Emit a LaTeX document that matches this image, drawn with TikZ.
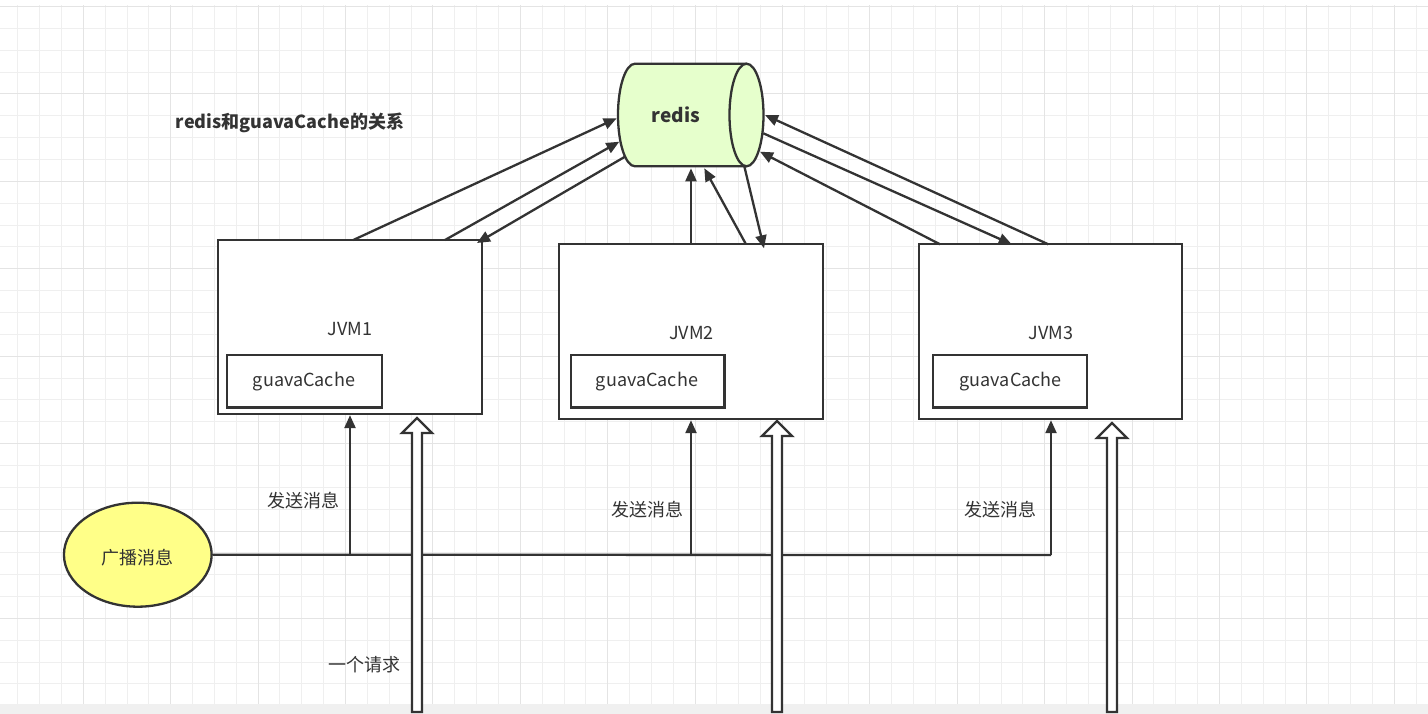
\documentclass[tikz,border=0pt]{standalone}
\usepackage{fontspec}
\setmainfont{Noto Sans CJK SC}
\usetikzlibrary{arrows.meta,shapes.geometric}
\definecolor{ln}{HTML}{333333}
\definecolor{gridminor}{HTML}{EFEFEF}
\definecolor{gridmajor}{HTML}{E4E4E4}
\definecolor{redisfill}{HTML}{E6FFCC}
\definecolor{bcfill}{HTML}{FFFF88}
\definecolor{band}{HTML}{F0F0F0}
\tikzset{
  jvmbox/.style={draw=ln, line width=2.3pt, fill=white, rectangle, inner sep=0pt},
  txt/.style={text=ln, inner sep=0pt},
  conn/.style={draw=ln, line width=2.3pt},
  arr/.style={conn, -{Triangle[length=13pt,width=11pt]}},
  hollow/.style={draw=ln, line width=2.3pt, fill=white, line join=miter},
}
\begin{document}
\begin{tikzpicture}[x=1pt,y=-1pt,font=\fontsize{18}{22}\selectfont]
\useasboundingbox (0,0) rectangle (1428,714);
\fill[white] (0,0) rectangle (1428,714);
% grid
\begin{scope}
\clip (0,6) rectangle (1428,714);
\foreach \i in {-3,...,61}
  \draw[gridminor, line width=1pt] ({83.3+\i*21.85},0) -- ({83.3+\i*21.85},714);
\foreach \j in {-4,...,28}
  \draw[gridminor, line width=1pt] (0,{94+\j*21.85}) -- (1428,{94+\j*21.85});
\foreach \i in {-1,...,15}
  \draw[gridmajor, line width=1pt] ({83.3+\i*87.4},0) -- ({83.3+\i*87.4},714);
\foreach \j in {-1,...,7}
  \draw[gridmajor, line width=1pt] (0,{94+\j*87.4}) -- (1428,{94+\j*87.4});
\end{scope}
\fill[band] (0,704) rectangle (1428,714);

% title
\node[txt, font=\fontsize{18}{22}\selectfont\bfseries] (title) at (290,123) {redis和guavaCache的关系};

% redis cylinder
\fill[redisfill] (635,115) ellipse [x radius=17, y radius=51.3];
\fill[redisfill] (635,63.7) rectangle (746.5,166.3);
\draw[ln, line width=2.3pt, fill=redisfill] (746.5,115) ellipse [x radius=17, y radius=51.3];
\draw[ln, line width=2.3pt] (746.5,63.7) -- (635,63.7)
  arc[start angle=-90, end angle=-270, x radius=17, y radius=51.3] -- (746.5,166.3);
\node[txt, font=\fontsize{19}{22}\selectfont\bfseries] (redis) at (676,115) {redis};

% JVM boxes
\node[jvmbox, minimum width=263.4pt, minimum height=174pt] (jvm1) at (350,327) {};
\node[jvmbox, minimum width=263.4pt, minimum height=174.7pt] (jvm2) at (691,331.7) {};
\node[jvmbox, minimum width=262.7pt, minimum height=174.7pt] (jvm3) at (1050.3,331.7) {};
\node[txt] (jvm1t) at (350,329) {JVM1};
\node[txt] (jvm2t) at (691.5,333) {JVM2};
\node[txt] (jvm3t) at (1051,333) {JVM3};
\node[jvmbox, minimum width=154.4pt, minimum height=52.3pt] (gc1) at (304.5,381.2) {};
\node[jvmbox, minimum width=153.3pt, minimum height=52.3pt] (gc2) at (647.7,381.2) {};
\node[jvmbox, minimum width=153.4pt, minimum height=52.3pt] (gc3) at (1010,381.2) {};
\node[txt] (gc1t) at (304,382) {guavaCache};
\node[txt] (gc2t) at (647,382) {guavaCache};
\node[txt] (gc3t) at (1010.7,382) {guavaCache};

% connector end points
\coordinate (j1a) at (353.3,240);
\coordinate (j1b) at (445,240);
\coordinate (j1c) at (477,243);
\coordinate (r1a) at (616.7,118.3);
\coordinate (r1b) at (619.3,141.7);
\coordinate (r1c) at (625,156.7);
\coordinate (j2a) at (691,244.3);
\coordinate (j2b) at (746,244.3);
\coordinate (j2c) at (764,248.3);
\coordinate (r2a) at (691,168.3);
\coordinate (r2b) at (704.3,168.3);
\coordinate (r2c) at (744,165);
\coordinate (j3a) at (1048.3,244.3);
\coordinate (j3b) at (1011.7,244.3);
\coordinate (j3c) at (940,244.3);
\coordinate (r3a) at (765,115);
\coordinate (r3b) at (763.3,133.3);
\coordinate (r3c) at (760,151.7);

\draw[arr] (j1a) -- (r1a);
\draw[arr] (j1b) -- (r1b);
\draw[arr] (r1c) -- (j1c);
\draw[arr] (j2a) -- (r2a);
\draw[arr] (j2b) -- (r2b);
\draw[arr] (r2c) -- (j2c);
\draw[arr] (j3a) -- (r3a);
\draw[arr] (r3b) -- (j3b);
\draw[arr] (j3c) -- (r3c);

% broadcast
\node[ellipse, draw=ln, line width=2.3pt, fill=bcfill, minimum width=147.7pt, minimum height=104pt, inner sep=0pt] (bc) at (137.8,554.7) {};
\node[txt] (bct) at (137,558) {广播消息};
\coordinate (b1) at (350,555);
\coordinate (b2) at (691,555);
\coordinate (b3) at (1051,555);
\draw[conn] (bc.east) -- (b3);
\draw[arr] (b1) -- (b1 |- jvm1.south);
\draw[arr] (b2) -- (b2 |- jvm2.south);
\draw[arr] (b3) -- (b3 |- jvm3.south);
\node[txt] (s1) at (303,501) {发送消息};
\node[txt] (s2) at (647,510) {发送消息};
\node[txt] (s3) at (1000,510) {发送消息};

% request hollow arrows
\draw[hollow] (412,712) -- (412,433) -- (402,433) -- (417,418) -- (432,433) -- (422,433) -- (422,712) -- cycle;
\draw[hollow] (772,712) -- (772,436) -- (762,436) -- (777,421) -- (792,436) -- (782,436) -- (782,712) -- cycle;
\draw[hollow] (1107,712) -- (1107,438) -- (1097,438) -- (1112,423) -- (1127,438) -- (1117,438) -- (1117,712) -- cycle;
\node[txt] (req) at (364,665) {一个请求};
\end{tikzpicture}
\end{document}
